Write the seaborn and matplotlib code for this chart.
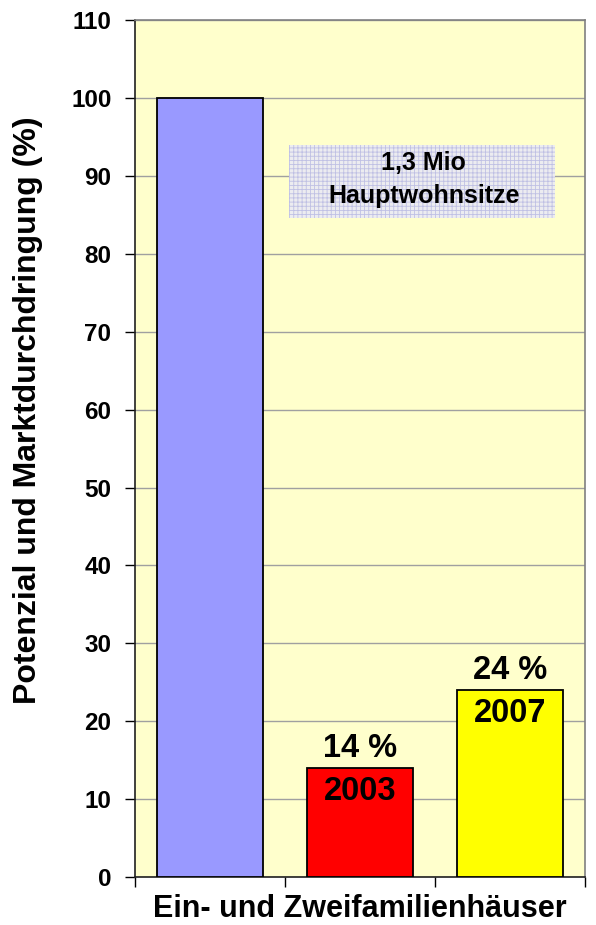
import matplotlib
matplotlib.use("Agg")
import matplotlib.pyplot as plt
import seaborn as sns
from matplotlib.patches import Rectangle

# data
categories = ["Potenzial", "2003", "2007"]
values = [100, 14, 24]
bar_colors = ["#9999FF", "#FF0000", "#FFFF00"]
pct_labels = ["", "14 %", "24 %"]
year_labels = ["", "2003", "2007"]
yticks = list(range(0, 111, 10))

sns.set_style("white")
plt.rcParams["font.family"] = ["Liberation Sans", "DejaVu Sans"]
plt.rcParams["font.weight"] = "bold"
plt.rcParams["text.color"] = "black"
plt.rcParams["axes.labelcolor"] = "black"
plt.rcParams["xtick.color"] = "black"
plt.rcParams["ytick.color"] = "black"
plt.rcParams["hatch.linewidth"] = 0.6

fig = plt.figure(figsize=(5.96, 9.25), dpi=100)
ax = fig.add_axes([0.2265, 0.0519, 0.755, 0.9261])
ax.set_facecolor("#FFFFCC")

sns.barplot(x=categories, y=values, hue=categories, palette=bar_colors,
            saturation=1, edgecolor="black", linewidth=1.3, width=0.71,
            legend=False, ax=ax, zorder=3)

ax.set_ylim(0, 110)
ax.set_xlim(-0.5, 2.5)
ax.set_yticks(yticks)
ax.set_yticklabels([str(t) for t in yticks], fontsize=17.5, fontweight="bold")
ax.set_xticks([-0.5, 0.5, 1.5, 2.5])
ax.set_xticklabels([])
ax.tick_params(axis="both", direction="out", length=7, width=1,
               bottom=True, left=True)
ax.tick_params(axis="y", pad=10)
ax.yaxis.grid(True, color="#A0A0A0", linewidth=1, zorder=0)
ax.set_axisbelow(True)

for side in ["top", "right"]:
    ax.spines[side].set_color("#808080")
    ax.spines[side].set_linewidth(1.2)
for side in ["left", "bottom"]:
    ax.spines[side].set_color("#202020")
    ax.spines[side].set_linewidth(1.2)

ax.set_ylabel("Potenzial und Marktdurchdringung (%)", fontsize=23,
              fontweight="bold")
ax.yaxis.set_label_coords(-0.205, 0.545)
ax.set_xlabel("Ein- und Zweifamilienhäuser", fontsize=22, fontweight="bold",
              labelpad=2)

for i, v in enumerate(values):
    if pct_labels[i]:
        ax.text(i, v + 1.4, pct_labels[i], ha="center", va="baseline",
                fontsize=23.5, fontweight="bold", zorder=5)
        ax.text(i, v - 4.1, year_labels[i], ha="center", va="baseline",
                fontsize=23.5, fontweight="bold", zorder=5)

# annotation box
box = Rectangle((0.529, 84.6), 1.773, 9.4, facecolor="#ECECF0",
                edgecolor="#BFC0E4", hatch="++++", linewidth=0, zorder=4)
ax.add_patch(box)
ax.text(1.425, 90.76, "1,3 Mio", ha="center", va="baseline",
        fontsize=18, fontweight="bold", zorder=5)
ax.text(1.425, 86.5, "Hauptwohnsitze", ha="center", va="baseline",
        fontsize=18, fontweight="bold", zorder=5)

fig.savefig("out.png", dpi=100)
